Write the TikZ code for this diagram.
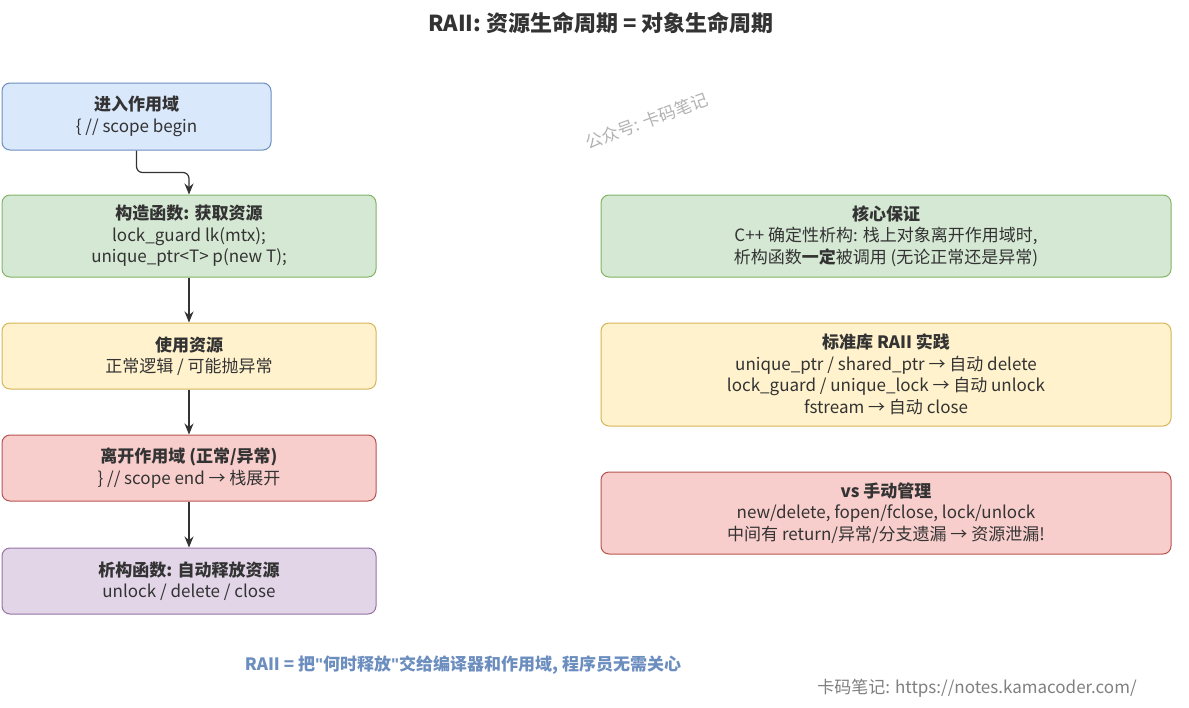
\documentclass[tikz,border=0pt]{standalone}
\usepackage{fontspec}
\setmainfont{Noto Sans CJK SC}
\newfontfamily\latinq{Liberation Sans}
\usetikzlibrary{arrows.meta}
\definecolor{bF}{HTML}{DAE8FC}\definecolor{bS}{HTML}{6C8EBF}
\definecolor{gF}{HTML}{D5E8D4}\definecolor{gS}{HTML}{82B366}
\definecolor{yF}{HTML}{FFF2CC}\definecolor{yS}{HTML}{D6B656}
\definecolor{rF}{HTML}{F8CECC}\definecolor{rS}{HTML}{B85450}
\definecolor{pF}{HTML}{E1D5E7}\definecolor{pS}{HTML}{9673A6}
\definecolor{txt}{HTML}{333333}
\tikzset{box/.style={draw, rounded corners=8pt, line width=1pt, align=center, inner sep=0pt, text=txt, font=\fontsize{17}{21.5}\selectfont},
 arr/.style={-{Stealth[length=11pt,width=9pt]}, line width=1.2pt, color=txt}}
\newcommand{\bx}[7]{\node[box, fill=#5, draw=#6, minimum width=#3pt-#1pt, minimum height=#4pt-#2pt] (#7) at ({(#1+#3)/2}, {(#2+#4)/2})}
\begin{document}
\begin{tikzpicture}[x=1pt,y=-1pt]
\useasboundingbox (0,0) rectangle (1189,707);
\fill[white] (0,0) rectangle (1189,707);
\node[font=\fontsize{22}{26}\selectfont\bfseries, text=txt] (title) at (601,23) {RAII: 资源生命周期 = 对象生命周期};
\bx{2}{83}{271}{150}{bF}{bS}{b1} {\textbf{进入作用域}\\\{ // scope begin};
\bx{2}{195}{376}{277}{gF}{gS}{b2} {\textbf{构造函数: 获取资源}\\lock\_guard lk(mtx);\\unique\_ptr<T> p(new T);};
\bx{2}{323}{376}{389}{yF}{yS}{b3} {\textbf{使用资源}\\正常逻辑 / 可能抛异常};
\bx{2}{435}{376}{501}{rF}{rS}{b4} {\textbf{离开作用域 (正常/异常)}\\\} // scope end → 栈展开};
\bx{2}{548}{376}{614}{pF}{pS}{b5} {\textbf{析构函数: 自动释放资源}\\unlock / delete / close};
\bx{601}{195}{1171}{277}{gF}{gS}{r1} {\textbf{核心保证}\\C++ 确定性析构: 栈上对象离开作用域时,\\析构函数\textbf{一定}被调用 (无论正常还是异常)};
\bx{601}{323}{1171}{426}{yF}{yS}{r2} {\textbf{标准库 RAII 实践}\\unique\_ptr / shared\_ptr → 自动 delete\\lock\_guard / unique\_lock → 自动 unlock\\fstream → 自动 close};
\bx{601}{472}{1171}{554}{rF}{rS}{r3} {\textbf{vs 手动管理}\\new/delete, fopen/fclose, lock/unlock\\中间有 return/异常/分支遗漏 → 资源泄漏!};
\draw[arr, rounded corners=6pt] (b1.south) -- ++(0,22) -| (b2.north);
\draw[arr] (b2) -- (b3);
\draw[arr] (b3) -- (b4);
\draw[arr] (b4) -- (b5);
\node[rotate=20, text=black!30, font=\fontsize{17}{20}\selectfont] (wm) at (647,121) {公众号: 卡码笔记};
\node[text=bS, font=\fontsize{17}{20}\selectfont\bfseries] (foot) at (463,665) {RAII = 把{\latinq\bfseries"}何时释放{\latinq\bfseries"}交给编译器和作用域, 程序员无需关心};
\node[text=black!50, font=\fontsize{17}{20}\selectfont] (site) at (977,688) {卡码笔记: https://notes.kamacoder.com/};
\end{tikzpicture}
\end{document}
